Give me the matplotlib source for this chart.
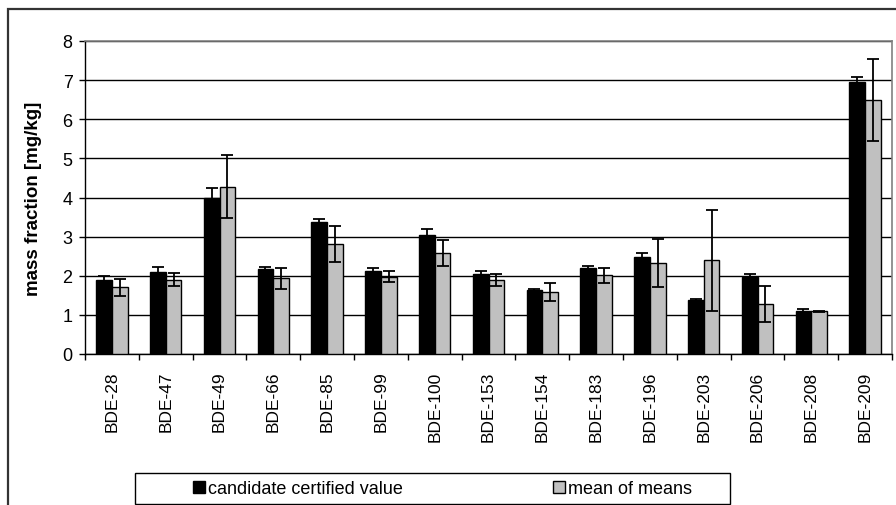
import numpy as np
import matplotlib.pyplot as plt
from matplotlib.patches import Rectangle

plt.rcParams['font.family'] = ['Liberation Sans', 'DejaVu Sans']

# congeners
labels = ['BDE-28', 'BDE-47', 'BDE-49', 'BDE-66', 'BDE-85', 'BDE-99', 'BDE-100',
          'BDE-153', 'BDE-154', 'BDE-183', 'BDE-196', 'BDE-203', 'BDE-206',
          'BDE-208', 'BDE-209']

# candidate certified value and its uncertainty
certified = [1.90, 2.09, 3.98, 2.17, 3.38, 2.13, 3.03, 2.04, 1.64, 2.21, 2.47, 1.37, 1.98, 1.11, 6.95]
certified_err = [0.10, 0.14, 0.26, 0.06, 0.06, 0.07, 0.16, 0.08, 0.03, 0.03, 0.10, 0.04, 0.06, 0.03, 0.14]

# mean of means and its spread
mean_of_means = [1.70, 1.90, 4.28, 1.93, 2.81, 1.98, 2.58, 1.89, 1.59, 2.01, 2.32, 2.39, 1.29, 1.09, 6.49]
mean_err = [0.21, 0.17, 0.80, 0.26, 0.46, 0.14, 0.33, 0.15, 0.23, 0.20, 0.61, 1.28, 0.46, 0.01, 1.04]

fig = plt.figure(figsize=(8.96, 5.06), dpi=100)
ax = fig.add_axes([85/896, 1 - 355/506, 807/896, 313/506])

x = np.arange(len(labels))
w = 0.29
err_kw = dict(ecolor='black', elinewidth=1.3, capsize=4.5, capthick=1.3)

b1 = ax.bar(x - w/2, certified, w, yerr=certified_err, color='black',
            edgecolor='black', linewidth=1, error_kw=err_kw, zorder=3,
            label='candidate certified value')
b2 = ax.bar(x + w/2, mean_of_means, w, yerr=mean_err, color='#c0c0c0',
            edgecolor='black', linewidth=1, error_kw=err_kw, zorder=3,
            label='mean of means')

ax.set_xlim(-0.5, len(labels) - 0.5)
ax.set_ylim(0, 8)
ax.set_yticks(range(0, 9))
ax.yaxis.grid(True, color='black', linewidth=1, zorder=0)
ax.set_axisbelow(True)

# category labels at centres, tick marks between categories
ax.set_xticks(x)
ax.set_xticklabels(labels, rotation=90, fontsize=12.5)
ax.set_xticks(np.arange(-0.5, len(labels)), minor=True)
ax.tick_params(axis='x', which='major', length=0, pad=12)
ax.tick_params(axis='x', which='minor', length=4, width=1, direction='out')
ax.tick_params(axis='y', length=4, width=1, direction='out', pad=5, labelsize=13)

for side in ['top', 'right']:
    ax.spines[side].set_color('#808080')
    ax.spines[side].set_linewidth(1.2)
for side in ['left', 'bottom']:
    ax.spines[side].set_color('black')
    ax.spines[side].set_linewidth(1)

ax.set_ylabel('mass fraction [mg/kg]', fontsize=13.5, fontweight='bold')
ax.yaxis.set_label_coords(-0.053, 0.5)

# outer chart border (cut at the right and bottom)
fig.patches.append(Rectangle((8/896, -0.1), 1.2, 1 - 10/506 + 0.1,
                             transform=fig.transFigure, fill=False,
                             edgecolor='#333333', linewidth=1.6))

# legend box
fig.patches.append(Rectangle((135/896, 1 - 505/506), 595/896, 31/506,
                             transform=fig.transFigure, fill=False,
                             edgecolor='black', linewidth=1))
fig.legend(handles=[b1, b2], loc='center left',
           bbox_to_anchor=(193/896, 1 - 490/506), ncol=2, frameon=False,
           fontsize=13, handlelength=0.65, handleheight=0.65,
           handletextpad=0.2, columnspacing=8.3, borderpad=0, borderaxespad=0)

fig.savefig('out.png', dpi=100)
